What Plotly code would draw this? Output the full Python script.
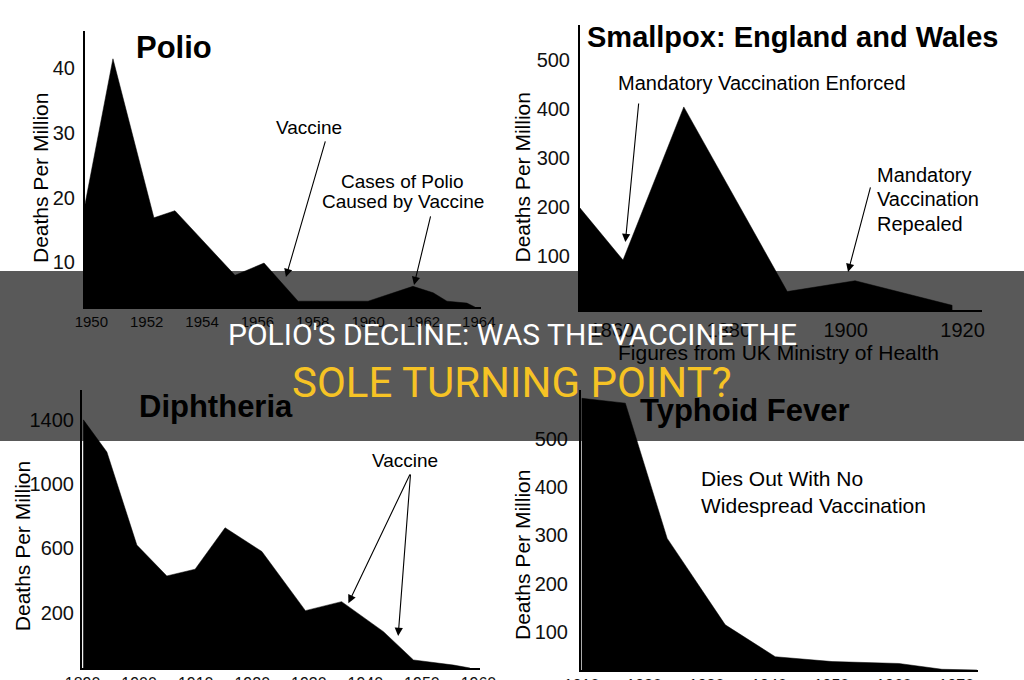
import plotly.graph_objects as go

# ---------------- data ----------------
polio_years = [1949.77, 1950.78, 1952.26, 1953.02, 1955.19, 1956.24, 1957.47, 1960.0, 1961.62, 1962.35, 1962.85, 1963.57, 1963.86]
polio_values = [19.0, 41.5, 16.9, 18.0, 8.0, 9.9, 4.0, 4.0, 6.3, 5.3, 4.0, 3.7, 3.1]
polio_ticks = [1950, 1952, 1954, 1956, 1958, 1960, 1962, 1964]
polio_yticks = [10, 20, 30, 40]

smallpox_years = [1854.54, 1861.9, 1872.3, 1890.0, 1901.6, 1918.2]
smallpox_values = [198, 92, 404, 28, 50, 0]
smallpox_ticks = [1860, 1880, 1900, 1920]
smallpox_yticks = [100, 200, 300, 400, 500]

diph_years = [1890.15, 1894.3, 1899.6, 1904.9, 1909.9, 1915.2, 1921.7, 1929.4, 1935.8, 1943.2, 1948.5, 1955.6, 1958.5]
diph_values = [1400, 1200, 620, 428, 470, 728, 580, 212, 268, 81, -95, -127, -145]
diph_ticks = [1890, 1900, 1910, 1920, 1930, 1940, 1950, 1960]
diph_yticks = [200, 600, 1000, 1400]

typhoid_years = [1910.05, 1917.0, 1923.7, 1933.0, 1941.0, 1950.1, 1960.8, 1967.7, 1973.3]
typhoid_values = [584, 574, 294, 115, 49, 39, 35, 23, 21.5]
typhoid_ticks = [1910, 1920, 1930, 1940, 1950, 1960, 1970]
typhoid_yticks = [100, 200, 300, 400, 500]

# ---------------- layout of the four panels ----------------
W, H = 1024, 680
FONT = "Liberation Sans, Arial, sans-serif"

panels = [
    dict(years=polio_years, values=polio_values, xt=polio_ticks, yt=polio_yticks,
         xr=[1949.77, 1964.08], yr=[3.1, 45.8], dx=[85, 481], dy=[31, 307], xf=15, xso=0, yso=4),
    dict(years=smallpox_years, values=smallpox_values, xt=smallpox_ticks, yt=smallpox_yticks,
         xr=[1854.54, 1923.32], yr=[-9.6, 570.9], dx=[580, 982], dy=[25, 310], xf=20, xso=1, yso=4),
    dict(years=diph_years, values=diph_values, xt=diph_ticks, yt=diph_yticks,
         xr=[1889.9, 1960.27], yr=[-145.2, 1585.8], dx=[82, 480], dy=[390, 668], xf=16, xso=0, yso=2),
    dict(years=typhoid_years, values=typhoid_values, xt=typhoid_ticks, yt=typhoid_yticks,
         xr=[1909.9, 1973.47], yr=[21.5, 601.2], dx=[581, 978], dy=[390, 670], xf=16, xso=0, yso=7),
]

fig = go.Figure()
layout = dict(width=W, height=H, margin=dict(l=0, r=0, t=0, b=0, pad=0, autoexpand=False),
              paper_bgcolor="white", plot_bgcolor="white", showlegend=False,
              font=dict(family=FONT, color="black"))

for i, p in enumerate(panels, start=1):
    sfx = "" if i == 1 else str(i)
    floor = p["yr"][0]
    xs = [p["years"][0]] + p["years"] + [p["years"][-1]]
    ys = [floor] + p["values"] + [floor]
    fig.add_trace(go.Scatter(x=xs, y=ys, mode="lines", fill="toself",
                             fillcolor="black", line=dict(color="black", width=0.5),
                             xaxis="x" + sfx, yaxis="y" + sfx, hoverinfo="skip"))
    layout["xaxis" + sfx] = dict(domain=[p["dx"][0] / W, p["dx"][1] / W], range=p["xr"],
                                 anchor="y" + sfx, tickmode="array", tickvals=p["xt"],
                                 showgrid=False, zeroline=False, showline=True, automargin=False,
                                 linecolor="black", linewidth=2, ticks="",
                                 ticklabelstandoff=p["xso"],
                                 tickfont=dict(family=FONT, size=p["xf"], color="#111"))
    layout["yaxis" + sfx] = dict(domain=[1 - p["dy"][1] / H, 1 - p["dy"][0] / H], range=p["yr"],
                                 anchor="x" + sfx, tickmode="array", tickvals=p["yt"],
                                 showgrid=False, zeroline=False, showline=True, automargin=False,
                                 linecolor="black", linewidth=2, ticks="",
                                 ticklabelstandoff=p["yso"],
                                 tickfont=dict(family=FONT, size=20, color="#111"))

fig.update_layout(**layout)

ann = []


def text(x, y, t, ref, size, bold=False, xanchor="center"):
    ann.append(dict(x=x, y=y, xref="x" + ref, yref="y" + ref, text=("<b>%s</b>" % t) if bold else t,
                    showarrow=False, xanchor=xanchor, yanchor="middle",
                    font=dict(family=FONT, size=size, color="black")))


def arrow(x0, y0, x1, y1, ref):
    ann.append(dict(x=x1, y=y1, ax=x0, ay=y0, xref="x" + ref, yref="y" + ref,
                    axref="x" + ref, ayref="y" + ref, text="", showarrow=True,
                    arrowhead=2, arrowsize=1.5, arrowwidth=1.1, arrowcolor="black", standoff=0))


# Polio
text(1952.97, 43.2, "Polio", "", 31, bold=True)
text(1957.86, 30.8, "Vaccine", "", 19)
arrow(1958.47, 28.95, 1957.03, 7.74, "")
text(1961.26, 22.45, "Cases of Polio", "", 19)
text(1961.26, 19.35, "Caused by Vaccine", "", 19)
arrow(1962.27, 17.34, 1961.66, 6.5, "")

# Smallpox
text(1890.9, 546.4, "Smallpox: England and Wales", "2", 29, bold=True)
text(1885.6, 452.7, "Mandatory Vaccination Enforced", "2", 20)
arrow(1864.6, 414, 1862.3, 128.9, "2")
text(1904.96, 265.4, "Mandatory", "2", 20, xanchor="left")
text(1904.96, 215.5, "Vaccination", "2", 20, xanchor="left")
text(1904.96, 165.6, "Repealed", "2", 20, xanchor="left")
arrow(1904.3, 243, 1900.4, 67.8, "2")

# Diphtheria
text(1913.6, 1481, "Diphtheria", "3", 31, bold=True)
text(1947.0, 1145.6, "Vaccine", "3", 19)
arrow(1948.0, 1069, 1937.0, 257.7, "3")
arrow(1948.0, 1069, 1945.8, 54, "3")

# Typhoid
text(1936.2, 559.8, "Typhoid Fever", "4", 31, bold=True)
text(1928.74, 417.4, "Dies Out With No", "4", 21, xanchor="left")
text(1928.74, 362.1, "Widespread Vaccination", "4", 21, xanchor="left")

# paper-level texts
ann.append(dict(x=778 / W, y=1 - 352 / H, xref="paper", yref="paper", showarrow=False,
                xanchor="center", yanchor="middle",
                text="Figures from UK Ministry of Health", font=dict(family=FONT, size=21, color="black")))
for (px, py) in [(41, 178), (522, 177.5), (22.5, 546.7), (522, 555)]:
    ann.append(dict(x=px / W, y=1 - py / H, xref="paper", yref="paper", showarrow=False,
                    xanchor="center", yanchor="middle",
                    text="Deaths Per Million", textangle=-90,
                    font=dict(family=FONT, size=21, color="black")))

# banner title
ann.append(dict(x=0.5, y=1 - 334 / H, xref="paper", yref="paper", showarrow=False,
                xanchor="center", yanchor="middle",
                text="POLIO'S DECLINE: WAS THE VACCINE THE",
                font=dict(family="Roboto, sans-serif", size=30, color="white")))
ann.append(dict(x=0.5, y=1 - 382 / H, xref="paper", yref="paper", showarrow=False,
                xanchor="center", yanchor="middle",
                text="SOLE TURNING POINT?",
                font=dict(family="Roboto, sans-serif", size=42, color="#f6c325")))

fig.update_layout(annotations=ann)
fig.add_shape(type="rect", xref="paper", yref="paper", x0=0, x1=1,
              y0=1 - 441 / H, y1=1 - 271 / H, fillcolor="rgba(0,0,0,0.65)",
              line=dict(width=0), layer="above")

fig.write_html("out.html")
